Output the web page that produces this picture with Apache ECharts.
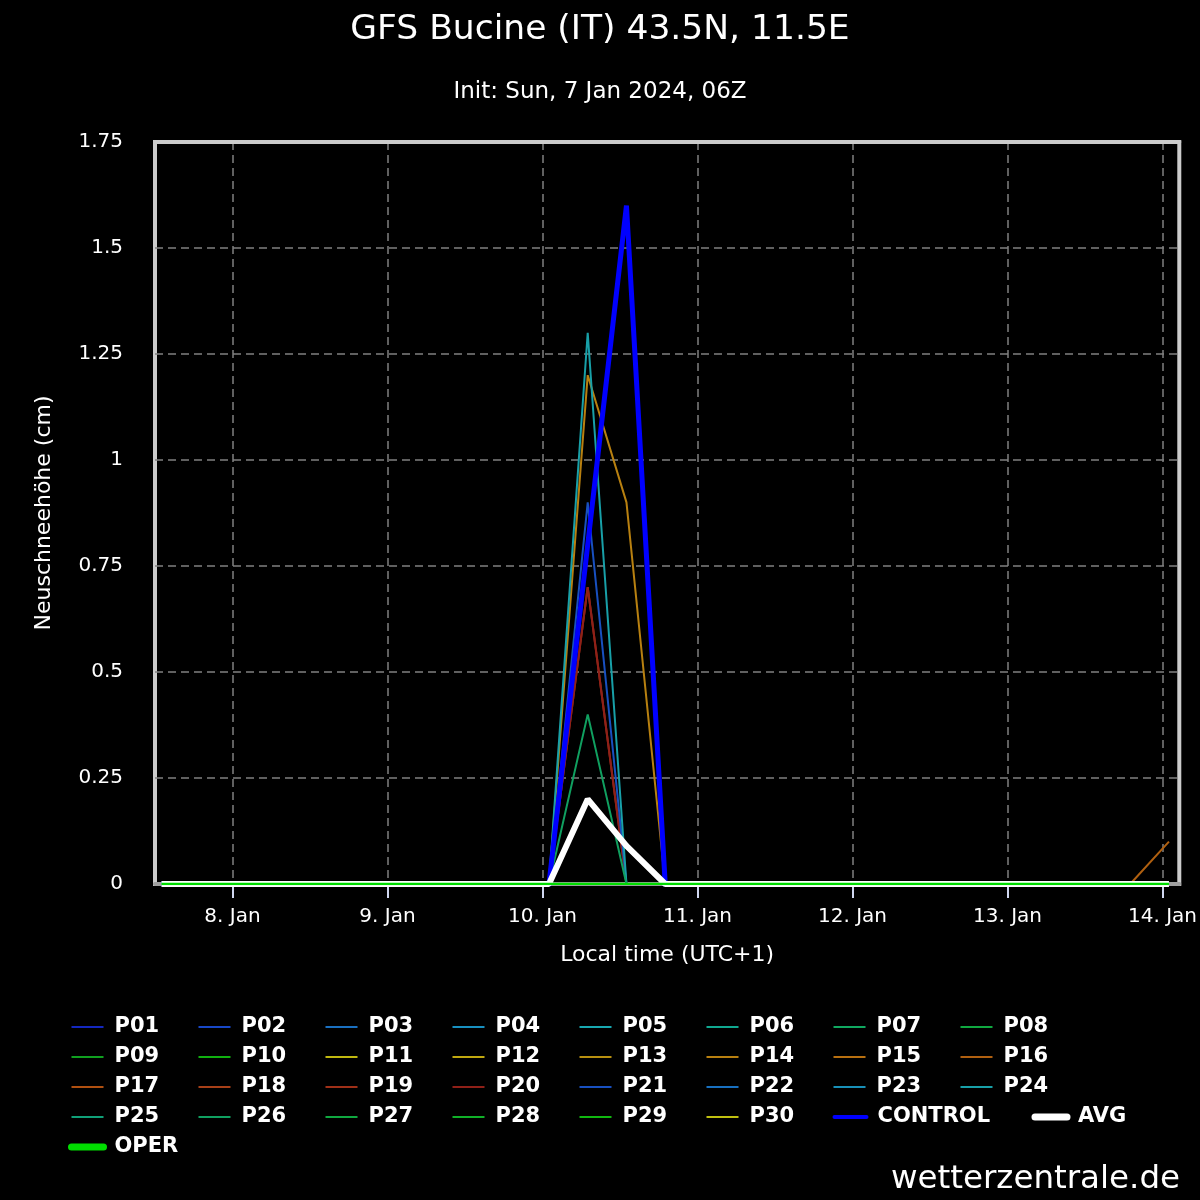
<!DOCTYPE html>
<html><head><meta charset="utf-8">
<script src="https://cdn.jsdelivr.net/npm/echarts@6/dist/echarts.min.js"></script>
<style>html,body{margin:0;padding:0;background:#000}#c{width:1200px;height:1200px}</style>
</head><body><div id="c"></div>
<script>
const titleText = 'GFS Bucine (IT) 43.5N, 11.5E';
const subtitleText = 'Init: Sun, 7 Jan 2024, 06Z';
const yAxisName = 'Neuschneehöhe (cm)';
const xAxisName = 'Local time (UTC+1)';
const sourceText = 'wetterzentrale.de';

// forecast steps, hours since 7 Jan 2024 00:00 local time (UTC+1)
const hours = [13,19,25,31,37,43,49,55,61,67,73,79,85,91,97,103,109,115,121,127,133,139,145,151,157,163,169];
const dayTicks = [24,48,72,96,120,144,168];
const dayLabels = ['8. Jan','9. Jan','10. Jan','11. Jan','12. Jan','13. Jan','14. Jan'];

const memberNames = ['P01','P02','P03','P04','P05','P06','P07','P08','P09','P10','P11','P12','P13','P14','P15','P16','P17','P18','P19','P20','P21','P22','P23','P24','P25','P26','P27','P28','P29','P30'];
const memberColors = ['#1428c0','#1848c8','#1a70c0','#1890c0','#18a8b0','#10a890','#10a860','#10a840','#10a020','#10b010','#c0b810','#c0a810','#b89010','#b88010','#b87010','#b06010','#b05010','#a84018','#a03018','#902018','#1850c0','#1870c0','#1890b8','#18a0a8','#10a078','#10a060','#10a840','#10b028','#10b810','#c0c010'];

const P01 = [0,0,0,0,0,0,0,0,0,0,0,0,0,0,0,0,0,0,0,0,0,0,0,0,0,0,0];
const P02 = [0,0,0,0,0,0,0,0,0,0,0,0,0,0,0,0,0,0,0,0,0,0,0,0,0,0,0];
const P03 = [0,0,0,0,0,0,0,0,0,0,0,0,0,0,0,0,0,0,0,0,0,0,0,0,0,0,0];
const P04 = [0,0,0,0,0,0,0,0,0,0,0,0,0,0,0,0,0,0,0,0,0,0,0,0,0,0,0];
const P05 = [0,0,0,0,0,0,0,0,0,0,0,0,0,0,0,0,0,0,0,0,0,0,0,0,0,0,0];
const P06 = [0,0,0,0,0,0,0,0,0,0,0,0,0,0,0,0,0,0,0,0,0,0,0,0,0,0,0];
const P07 = [0,0,0,0,0,0,0,0,0,0,0,0,0,0,0,0,0,0,0,0,0,0,0,0,0,0,0];
const P08 = [0,0,0,0,0,0,0,0,0,0,0,0,0,0,0,0,0,0,0,0,0,0,0,0,0,0,0];
const P09 = [0,0,0,0,0,0,0,0,0,0,0,0,0,0,0,0,0,0,0,0,0,0,0,0,0,0,0];
const P10 = [0,0,0,0,0,0,0,0,0,0,0,0,0,0,0,0,0,0,0,0,0,0,0,0,0,0,0];
const P11 = [0,0,0,0,0,0,0,0,0,0,0,0,0,0,0,0,0,0,0,0,0,0,0,0,0,0,0];
const P12 = [0,0,0,0,0,0,0,0,0,0,0,0,0,0,0,0,0,0,0,0,0,0,0,0,0,0,0];
const P13 = [0,0,0,0,0,0,0,0,0,0,0,0,0,0,0,0,0,0,0,0,0,0,0,0,0,0,0];
const P14 = [0,0,0,0,0,0,0,0,0,0,0,1.2,0.9,0,0,0,0,0,0,0,0,0,0,0,0,0,0];
const P15 = [0,0,0,0,0,0,0,0,0,0,0,0,0,0,0,0,0,0,0,0,0,0,0,0,0,0,0];
const P16 = [0,0,0,0,0,0,0,0,0,0,0,0,0,0,0,0,0,0,0,0,0,0,0,0,0,0,0.1];
const P17 = [0,0,0,0,0,0,0,0,0,0,0,0,0,0,0,0,0,0,0,0,0,0,0,0,0,0,0];
const P18 = [0,0,0,0,0,0,0,0,0,0,0,0,0,0,0,0,0,0,0,0,0,0,0,0,0,0,0];
const P19 = [0,0,0,0,0,0,0,0,0,0,0,0.7,0,0,0,0,0,0,0,0,0,0,0,0,0,0,0];
const P20 = [0,0,0,0,0,0,0,0,0,0,0,0.7,0,0,0,0,0,0,0,0,0,0,0,0,0,0,0];
const P21 = [0,0,0,0,0,0,0,0,0,0,0,0.9,0,0,0,0,0,0,0,0,0,0,0,0,0,0,0];
const P22 = [0,0,0,0,0,0,0,0,0,0,0,0,0,0,0,0,0,0,0,0,0,0,0,0,0,0,0];
const P23 = [0,0,0,0,0,0,0,0,0,0,0,0,0,0,0,0,0,0,0,0,0,0,0,0,0,0,0];
const P24 = [0,0,0,0,0,0,0,0,0,0,0,1.3,0,0,0,0,0,0,0,0,0,0,0,0,0,0,0];
const P25 = [0,0,0,0,0,0,0,0,0,0,0,0,0,0,0,0,0,0,0,0,0,0,0,0,0,0,0];
const P26 = [0,0,0,0,0,0,0,0,0,0,0,0.4,0,0,0,0,0,0,0,0,0,0,0,0,0,0,0];
const P27 = [0,0,0,0,0,0,0,0,0,0,0,0,0,0,0,0,0,0,0,0,0,0,0,0,0,0,0];
const P28 = [0,0,0,0,0,0,0,0,0,0,0,0,0,0,0,0,0,0,0,0,0,0,0,0,0,0,0];
const P29 = [0,0,0,0,0,0,0,0,0,0,0,0,0,0,0,0,0,0,0,0,0,0,0,0,0,0,0];
const P30 = [0,0,0,0,0,0,0,0,0,0,0,0,0,0,0,0,0,0,0,0,0,0,0,0,0,0,0];
const CONTROL = [0,0,0,0,0,0,0,0,0,0,0,0.8,1.6,0,0,0,0,0,0,0,0,0,0,0,0,0,0];
const AVG = [0,0,0,0,0,0,0,0,0,0,0,0.2,0.09,0,0,0,0,0,0,0,0,0,0,0,0,0,0];
const OPER = [0,0,0,0,0,0,0,0,0,0,0,0,0,0,0,0,0,0,0,0,0,0,0,0,0,0,0];

const members = [P01,P02,P03,P04,P05,P06,P07,P08,P09,P10,P11,P12,P13,P14,P15,P16,P17,P18,P19,P20,P21,P22,P23,P24,P25,P26,P27,P28,P29,P30];

const FONT = 'DejaVu Sans';
const pairs = vals => hours.map((h, j) => [h, vals[j]]);

const series = memberNames.map((n, i) => ({
  name: n, type: 'line', data: pairs(members[i]), symbol: 'none',
  lineStyle: { width: 2, color: memberColors[i] }, itemStyle: { color: memberColors[i] },
  animation: false, z: 2
}));
series.push({ name: 'CONTROL', type: 'line', data: pairs(CONTROL), symbol: 'none',
  lineStyle: { width: 5, color: '#0000ff', join: 'miter' }, itemStyle: { color: '#0000ff' }, animation: false, z: 3 });
series.push({ name: 'AVG', type: 'line', data: pairs(AVG), symbol: 'none',
  lineStyle: { width: 6, color: '#ffffff' }, itemStyle: { color: '#ffffff' }, animation: false, z: 4 });
series.push({ name: 'OPER', type: 'line', data: pairs(OPER), symbol: 'none',
  lineStyle: { width: 2.5, color: '#00dd00' }, itemStyle: { color: '#00dd00' }, animation: false, z: 5 });

const noSym = { opacity: 0, color: 'transparent', borderWidth: 0 };
const legendData = memberNames.map((n, i) => ({ name: n, itemStyle: noSym, lineStyle: { width: 2, color: memberColors[i] } }))
  .concat([
    { name: 'CONTROL', itemStyle: noSym, lineStyle: { width: 4, color: '#0000ff', cap: 'round' } },
    { name: 'AVG', itemStyle: noSym, lineStyle: { width: 7, color: '#ffffff', cap: 'round' } },
    { name: 'OPER', itemStyle: noSym, lineStyle: { width: 7, color: '#00dd00', cap: 'round' } }
  ]);

const richBase = { fontFamily: FONT, fontSize: 21, fontWeight: 'bold', color: '#ffffff', height: 30, lineHeight: 30, padding: [0, 0, 0, 6] };

const option = {
  backgroundColor: '#000000',
  animation: false,
  title: [
    { text: titleText, left: 'center', top: 13, padding: 0,
      textStyle: { fontFamily: FONT, fontSize: 34.5, fontWeight: 'normal', color: '#ffffff' } },
    { text: subtitleText, left: 'center', top: 81, padding: 0,
      textStyle: { fontFamily: FONT, fontSize: 23, fontWeight: 'normal', color: '#ffffff' } }
  ],
  graphic: [{ type: 'text', right: 20, top: 1163,
    style: { text: sourceText, fontFamily: FONT, fontSize: 32.5, fill: '#ffffff' } }],
  grid: { left: 155, right: 20, top: 142, bottom: 316, show: true,
    borderColor: '#cccccc', borderWidth: 4, backgroundColor: 'transparent' },
  legend: {
    data: legendData, left: 68, top: 1012, width: 1132, padding: 0,
    itemWidth: 32, itemHeight: 14, itemGap: 0,
    itemStyle: noSym,
    formatter: name => name.length === 3 ? '{p|' + name + '}' : (name === 'CONTROL' ? '{c|' + name + '}' : '{a|' + name + '}'),
    textStyle: { fontFamily: FONT, fontSize: 21, fontWeight: 'bold', color: '#ffffff',
      rich: {
        p: Object.assign({ width: 83 }, richBase),
        c: Object.assign({ width: 154 }, richBase),
        a: Object.assign({ width: 80 }, richBase)
      } }
  },
  xAxis: [{
    type: 'value', min: 12, max: 170.6,
    name: xAxisName, nameLocation: 'middle', nameGap: 60,
    nameTextStyle: { fontFamily: FONT, fontSize: 22, color: '#ffffff' },
    axisLine: { show: true, lineStyle: { color: '#a0a0a0', width: 4 } },
    axisTick: { show: true, customValues: dayTicks, length: 14, lineStyle: { color: '#d0d8f0', width: 2 } },
    axisLabel: { customValues: dayTicks, color: '#ffffff', fontFamily: FONT, fontSize: 20, margin: 23,
      formatter: v => { const k = dayTicks.indexOf(Math.round(v)); return k >= 0 ? dayLabels[k] : ''; } },
    splitLine: { show: true, lineStyle: { color: '#808080', width: 1.5, type: [8, 5] } }
  }, {
    type: 'value', position: 'top', min: 12, max: 170.6, z: 6,
    axisLine: { show: true, lineStyle: { color: '#cccccc', width: 4 } },
    axisTick: { show: false }, axisLabel: { show: false }, splitLine: { show: false }
  }],
  yAxis: {
    type: 'value', min: 0, max: 1.75, interval: 0.25,
    name: yAxisName, nameLocation: 'middle', nameGap: 100, nameRotate: 90,
    nameTextStyle: { fontFamily: FONT, fontSize: 22, color: '#ffffff' },
    axisLine: { show: false }, axisTick: { show: false },
    axisLabel: { color: '#ffffff', fontFamily: FONT, fontSize: 20, margin: 32 },
    splitLine: { show: true, lineStyle: { color: '#808080', width: 1.5, type: [8, 5] } }
  },
  series: series
};

const chart = echarts.init(document.getElementById('c'), null, { renderer: 'canvas' });
chart.setOption(option);
</script>
</body></html>
